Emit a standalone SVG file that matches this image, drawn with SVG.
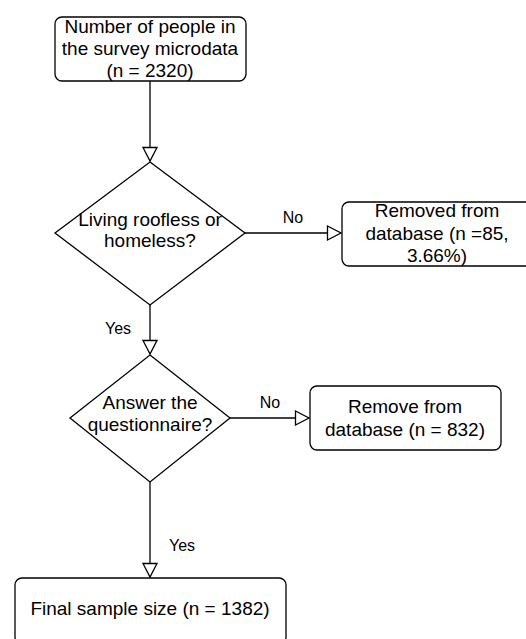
<svg xmlns="http://www.w3.org/2000/svg" width="526" height="639" viewBox="0 0 526 639">
<style>
.shape{fill:#fff;stroke:#000;stroke-width:1.3}
.t{font-family:"Liberation Sans",Arial,sans-serif;font-size:19px;fill:#000;text-anchor:middle}
.lbl{font-family:"Liberation Sans",Arial,sans-serif;font-size:16px;fill:#000;text-anchor:middle}
.edge{fill:none;stroke:#000;stroke-width:1.3}
</style>
<defs>
<marker id="open" markerUnits="userSpaceOnUse" markerWidth="18" markerHeight="18" viewBox="0 0 18 18" refX="16" refY="9" orient="auto">
<path d="M2.5,2 L16,9 L2.5,16 Z" fill="#fff" stroke="#000" stroke-width="1.3"/>
</marker>
</defs>
<rect width="526" height="639" fill="#fff"/>
<g id="connectors">
<path class="edge" d="M150,81 V161" marker-end="url(#open)"/>
<path class="edge" d="M245,233 H341" marker-end="url(#open)"/>
<path class="edge" d="M150,305 V354" marker-end="url(#open)"/>
<path class="edge" d="M230,418 H309" marker-end="url(#open)"/>
<path class="edge" d="M150,482 V577" marker-end="url(#open)"/>
<text class="lbl" x="293" y="223">No</text>
<text class="lbl" x="118" y="334">Yes</text>
<text class="lbl" x="270" y="408">No</text>
<text class="lbl" x="182" y="551">Yes</text>
</g>
<g id="start">
<rect class="shape" x="55" y="17" width="191" height="64" rx="7"/>
<text class="t" x="150" y="33">Number of people in</text>
<text class="t" x="150" y="55">the survey microdata</text>
<text class="t" x="150" y="77">(n = 2320)</text>
</g>
<g id="decision1">
<polygon class="shape" points="150,162 245,233 150,305 55,233"/>
<text class="t" x="150" y="226">Living roofless or</text>
<text class="t" x="150" y="247">homeless?</text>
</g>
<g id="removed1">
<rect class="shape" x="342" y="202" width="192" height="64" rx="7"/>
<text class="t" x="437" y="217">Removed from</text>
<text class="t" x="437" y="240">database (n =85,</text>
<text class="t" x="437" y="262">3.66%)</text>
</g>
<g id="decision2">
<polygon class="shape" points="150,355 230,418 150,482 70,418"/>
<text class="t" x="150" y="409">Answer the</text>
<text class="t" x="150" y="431">questionnaire?</text>
</g>
<g id="removed2">
<rect class="shape" x="310" y="386" width="191" height="64" rx="7"/>
<text class="t" x="405" y="413">Remove from</text>
<text class="t" x="405" y="436">database (n = 832)</text>
</g>
<g id="final">
<rect class="shape" x="15" y="578" width="271" height="66" rx="7"/>
<text class="t" x="150" y="615">Final sample size (n = 1382)</text>
</g>
</svg>
